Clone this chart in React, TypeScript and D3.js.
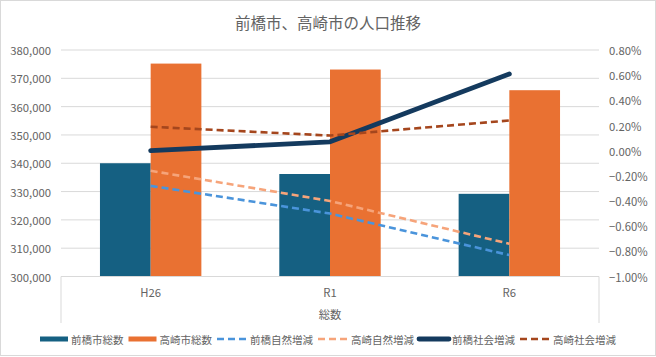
import React from "react";
import * as d3 from "d3";

const categories = ["H26", "R1", "R6"];
const maebashiTotal = [340000, 336200, 329200];
const takasakiTotal = [375200, 373100, 365800];
const maebashiNatural = [-0.0028, -0.005, -0.0083];
const takasakiNatural = [-0.0016, -0.004, -0.0074];
const maebashiSocial = [0.0, 0.0007, 0.0061];
const takasakiSocial = [0.0019, 0.0012, 0.0024];

const leftTicks = [300000, 310000, 320000, 330000, 340000, 350000, 360000, 370000, 380000];
const rightTicks = [-0.01, -0.008, -0.006, -0.004, -0.002, 0, 0.002, 0.004, 0.006, 0.008];

const title = "前橋市、高崎市の人口推移";
const axisTitle = "総数";

const W = 656;
const H = 357;
const X0 = 61;
const X1 = 599;
const Y0 = 276.5;
const Y1 = 50;

const FONT = "'Noto Sans CJK JP', 'Noto Sans', sans-serif";
const TXT = "#636363";
const GRID = "#d9d9d9";

type Series = {
  name: string;
  kind: "bar" | "line";
  color: string;
  width?: number;
  dash?: string;
  values: number[];
};

const barSeries: Series[] = [
  { name: "前橋市総数", kind: "bar", color: "#156082", values: maebashiTotal },
  { name: "高崎市総数", kind: "bar", color: "#E97132", values: takasakiTotal },
];
const lineSeries: Series[] = [
  { name: "前橋自然増減", kind: "line", color: "#4A94DB", width: 2.6, dash: "7,4", values: maebashiNatural },
  { name: "高崎自然増減", kind: "line", color: "#F6A47A", width: 2.6, dash: "7,4", values: takasakiNatural },
  { name: "前橋社会増減", kind: "line", color: "#143A5E", width: 4.8, values: maebashiSocial },
  { name: "高崎社会増減", kind: "line", color: "#A5461D", width: 2.6, dash: "7,4", values: takasakiSocial },
];

export default function App() {
  const x = d3.scaleBand<string>().domain(categories).range([X0, X1]);
  const yL = d3.scaleLinear().domain([300000, 380000]).range([Y0, Y1]);
  const yR = d3.scaleLinear().domain([-0.01, 0.008]).range([Y0, Y1]);
  const barW = 50.7;
  const fmtL = d3.format(",");
  const fmtR = d3.format(".2%");

  const line = (vals: number[]) =>
    d3
      .line<number>()
      .x((_, i) => (x(categories[i]) as number) + x.bandwidth() / 2)
      .y((v) => yR(v))(vals) as string;

  const legendItems = [...barSeries, ...lineSeries];
  const fs = 10.5;
  let lx = 40;
  const legendPos = legendItems.map((s) => {
    const sw = s.kind === "bar" ? 28 : 30;
    const pos = { sx: lx, sw, tx: lx + sw + 3 };
    lx = pos.tx + s.name.length * fs + 5;
    return pos;
  });

  return (
    <svg
      width={W}
      height={H}
      style={{ position: "absolute", left: 0, top: 0, background: "#fff" }}
      fontFamily={FONT}
    >
      <rect x={0.5} y={0.5} width={W - 1} height={H - 2} fill="#fff" stroke={GRID} />
      <text x={328} y={21.5} textAnchor="middle" dominantBaseline="central" fontSize={15.5} fill={TXT}>
        {title}
      </text>
      {leftTicks.map((t) => (
        <g key={t}>
          {t !== 300000 && (
            <line x1={X0} x2={X1} y1={yL(t)} y2={yL(t)} stroke={GRID} strokeWidth={1} />
          )}
          <text x={51} y={yL(t)} textAnchor="end" dominantBaseline="central" fontSize={11.3} fill={TXT}>
            {fmtL(t)}
          </text>
        </g>
      ))}
      {rightTicks.map((t) => (
        <text key={t} x={609} y={yR(t)} textAnchor="start" dominantBaseline="central" fontSize={11.3} fill={TXT}>
          {fmtR(t)}
        </text>
      ))}
      {categories.map((c, i) => {
        const cx = (x(c) as number) + x.bandwidth() / 2;
        return (
          <g key={c}>
            {barSeries.map((s, j) => (
              <rect
                key={s.name}
                x={cx - barW + j * barW}
                y={yL(s.values[i])}
                width={barW}
                height={Y0 - yL(s.values[i])}
                fill={s.color}
              />
            ))}
          </g>
        );
      })}
      <line x1={X0} x2={X1} y1={Y0} y2={Y0} stroke={GRID} strokeWidth={1} />
      <line x1={X0} x2={X0} y1={Y0} y2={323} stroke={GRID} strokeWidth={1} />
      <line x1={X1} x2={X1} y1={Y0} y2={323} stroke={GRID} strokeWidth={1} />
      {lineSeries.map((s) => (
        <path
          key={s.name}
          d={line(s.values)}
          fill="none"
          stroke={s.color}
          strokeWidth={s.width}
          strokeDasharray={s.dash}
          strokeLinecap={s.dash ? "butt" : "round"}
          strokeLinejoin="round"
        />
      ))}
      {categories.map((c) => (
        <text
          key={c}
          x={(x(c) as number) + x.bandwidth() / 2}
          y={292}
          textAnchor="middle"
          dominantBaseline="central"
          fontSize={11.3}
          fill={TXT}
        >
          {c}
        </text>
      ))}
      <text x={330} y={314} textAnchor="middle" dominantBaseline="central" fontSize={11.3} fill={TXT}>
        {axisTitle}
      </text>
      {legendItems.map((s, i) => {
        const p = legendPos[i];
        return (
          <g key={s.name}>
            {s.kind === "bar" ? (
              <rect x={p.sx} y={336.5} width={p.sw} height={5} fill={s.color} />
            ) : (
              <line
                x1={p.sx}
                x2={p.sx + p.sw}
                y1={339}
                y2={339}
                stroke={s.color}
                strokeWidth={s.width}
                strokeDasharray={s.dash}
                strokeLinecap={s.dash ? "butt" : "round"}
              />
            )}
            <text x={p.tx} y={339} dominantBaseline="central" fontSize={fs} fill={TXT}>
              {s.name}
            </text>
          </g>
        );
      })}
    </svg>
  );
}
